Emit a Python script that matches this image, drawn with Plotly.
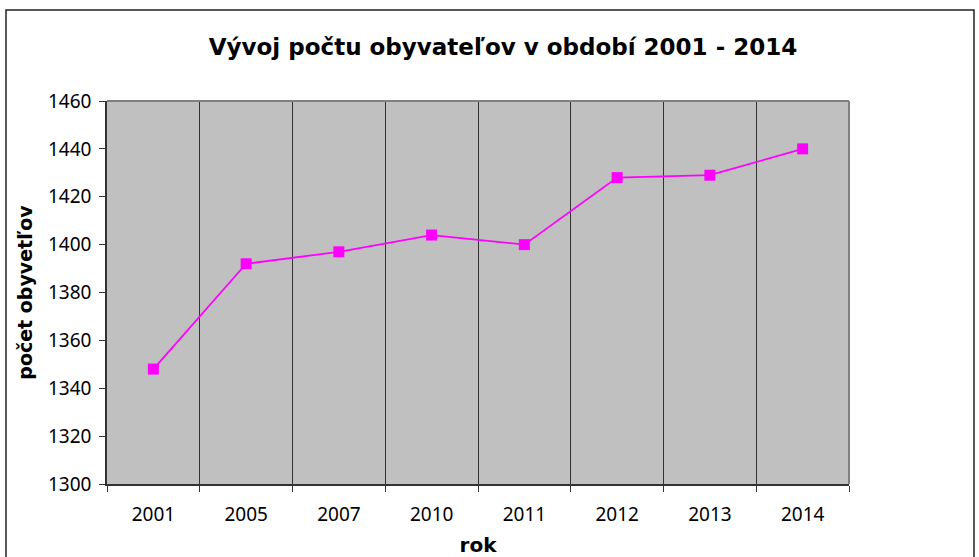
import plotly.graph_objects as go

years = ["2001", "2005", "2007", "2010", "2011", "2012", "2013", "2014"]
population = [1348, 1392, 1397, 1404, 1400, 1428, 1429, 1440]
y_ticks = [1300, 1320, 1340, 1360, 1380, 1400, 1420, 1440, 1460]

W, H = 979, 557
# target plot area in window pixels
PX0, PX1, PY0, PY1 = 107, 849, 101, 484
L, T = PX0, PY0
R, B = W - PX1, H - PY1
pw, ph = W - L - R, H - T - B


def px(xw):
    return (xw - PX0) / pw


def py(yw):
    return (PY1 - yw) / ph


fig = go.Figure()
fig.add_trace(go.Scatter(
    x=years, y=population, mode="lines+markers",
    line=dict(color="#FF00FF", width=1.8),
    marker=dict(symbol="square", size=11, color="#FF00FF"),
    showlegend=False,
))

fig.update_layout(
    width=W, height=H,
    margin=dict(l=L, r=R, t=T, b=B, autoexpand=False),
    paper_bgcolor="white",
    plot_bgcolor="#C0C0C0",
    title=dict(text="<b>Vývoj počtu obyvateľov v období 2001 - 2014</b>",
               x=503 / W, xanchor="center", y=1 - 47 / H, yanchor="middle",
               font=dict(family="DejaVu Sans", size=23, color="black")),
    xaxis=dict(
        type="category", tickson="boundaries", automargin=False,
        showgrid=True, gridcolor="#333333", gridwidth=1,
        showline=True, linecolor="#333333", linewidth=1.5,
        ticks="outside", ticklen=6, tickcolor="#333333",
        tickfont=dict(family="Noto Sans", size=19, color="black"),
        ticklabelstandoff=12,
        title=dict(text="<b>rok</b>", font=dict(family="DejaVu Sans", size=20, color="black"),
                   standoff=12),
        range=[-0.5, 7.5],
    ),
    yaxis=dict(
        range=[1300, 1460], tickvals=y_ticks, automargin=False,
        showgrid=False, zeroline=False,
        showline=True, linecolor="#333333", linewidth=1.5,
        ticks="outside", ticklen=6, tickcolor="#333333",
        tickfont=dict(family="Noto Sans", size=19, color="black"),
        ticklabelstandoff=4,
        title=dict(text="<b>počet obyvetľov</b>", font=dict(family="DejaVu Sans", size=19, color="black"),
                   standoff=10),
    ),
)

# grey frame on top and right of the plot area
fig.add_shape(type="line", xref="paper", yref="paper", x0=0, x1=1, y0=1, y1=1,
              line=dict(color="#808080", width=2), layer="above")
fig.add_shape(type="line", xref="paper", yref="paper", x0=1, x1=1, y0=0, y1=1,
              line=dict(color="#808080", width=2), layer="above")

# outer chart border
fig.add_shape(type="rect", xref="paper", yref="paper",
              x0=px(6), x1=px(974), y0=py(570), y1=py(10),
              line=dict(color="#222222", width=1.5), layer="below")

fig.write_html("out.html", config={"displayModeBar": False},
               post_script="document.body.style.margin='0';document.body.style.overflow='hidden';")
